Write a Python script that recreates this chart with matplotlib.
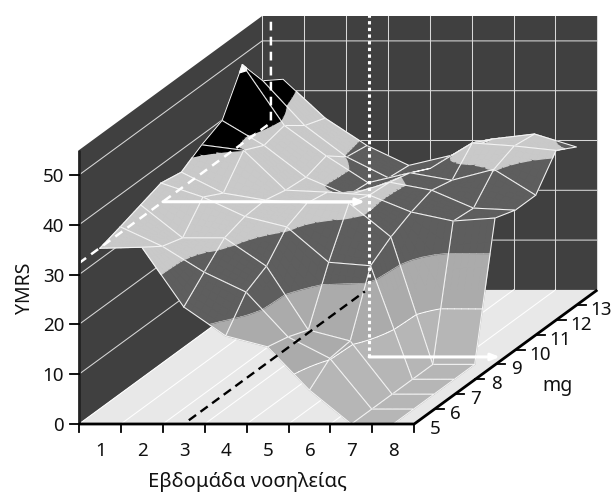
import numpy as np
import matplotlib
matplotlib.use('Agg')
import matplotlib.pyplot as plt
from matplotlib.collections import PolyCollection

plt.rcParams['font.family'] = ['Noto Sans', 'DejaVu Sans']

weeks = [1, 2, 3, 4, 5, 6, 7, 8]
mg_levels = [5, 6, 7, 8, 9, 10, 11, 12, 13, 14]
ymrs_ticks = [0, 10, 20, 30, 40, 50]
mg_ticks = [5, 6, 7, 8, 9, 10, 11, 12, 13]

# YMRS per week, one value per mg level
week_1 = [35.3, 36.6, 38.0, 39.4, 38.6, 41.1, 43.0, 51.2, 45.0, 42.3]
week_2 = [35.5, 32.7, 31.4, 36.6, 34.4, 40.0, 38.0, 39.0, 36.0, 34.5]
week_3 = [23.5, 27.5, 31.4, 32.7, 33.0, 32.0, 31.6, 32.9, 29.7, 29.0]
week_4 = [17.7, 23.5, 25.7, 30.6, 32.4, 31.6, 28.0, 27.5, 25.5, 25.0]
week_5 = [15.5, 14.5, 12.9, 23.5, 32.4, 31.0, 30.6, 29.5, 27.4, 27.0]
week_6 = [6.8, 10.2, 10.7, 22.8, 25.6, 27.6, 29.0, 28.0, 32.5, 30.3]
week_7 = [0, 0, 0, 0, 0, 25.8, 25.4, 30.2, 31.9, 31.3]
week_8 = [0, 0, 0, 0, 0, 26.4, 25.0, 25.0, 31.0, 28.7]
ymrs = np.array([week_1, week_2, week_3, week_4, week_5, week_6, week_7, week_8])

# bands of the surface
band_levels = [-1, 10, 20, 30, 40, 50, 60]
band_colors = ['#b6b6b6', '#ababab', '#5e5e5e', '#c9c9c9', '#000000', '#ffffff']

wall_color = '#404040'
floor_color = '#e8e8e8'
z_top = 55


def project(week, mg, z):
    """oblique view, floor front edge stays horizontal"""
    sx = 79 + (np.asarray(week, float) - 0.5) * 41.9 + (np.asarray(mg, float) - 5) * 20.35
    sy = 424 - (np.asarray(mg, float) - 5) * 14.9 - np.asarray(z, float) * 4.98
    return sx, sy


def clip_z(pts, level, keep_above):
    out = []
    for k in range(len(pts)):
        a, b = pts[k], pts[(k + 1) % len(pts)]
        a_in = a[2] >= level if keep_above else a[2] <= level
        b_in = b[2] >= level if keep_above else b[2] <= level
        if a_in:
            out.append(a)
        if a_in != b_in:
            t = (level - a[2]) / (b[2] - a[2])
            out.append((a[0] + t * (b[0] - a[0]), a[1] + t * (b[1] - a[1]), level))
    return out


def iso_segment(pts, level):
    cross = []
    for k in range(len(pts)):
        a, b = pts[k], pts[(k + 1) % len(pts)]
        if (a[2] - level) * (b[2] - level) < 0:
            t = (level - a[2]) / (b[2] - a[2])
            cross.append((a[0] + t * (b[0] - a[0]), a[1] + t * (b[1] - a[1])))
    return cross[:2] if len(cross) >= 2 else None


def draw_cell(ax, i, j, order):
    """one mesh cell, split in small pieces so band edges bend like the surface"""
    n = 6
    polys, colors = [], []
    iso = {10: [], 20: []}
    w0, w1 = weeks[i], weeks[i + 1]
    m0, m1 = mg_levels[j], mg_levels[j + 1]
    z00, z10, z01, z11 = ymrs[i, j], ymrs[i + 1, j], ymrs[i, j + 1], ymrs[i + 1, j + 1]

    def vertex(u, v):
        z = z00 * (1 - u) * (1 - v) + z10 * u * (1 - v) + z01 * (1 - u) * v + z11 * u * v
        return (w0 + u * (w1 - w0), m0 + v * (m1 - m0), z)

    for b in range(n - 1, -1, -1):
        for a in range(n - 1, -1, -1):
            quad = [vertex(a / n, b / n), vertex((a + 1) / n, b / n),
                    vertex((a + 1) / n, (b + 1) / n), vertex(a / n, (b + 1) / n)]
            for k in range(len(band_colors)):
                part = clip_z(clip_z(quad, band_levels[k], True), band_levels[k + 1], False)
                if len(part) >= 3:
                    sx, sy = project([p[0] for p in part], [p[1] for p in part], [p[2] for p in part])
                    polys.append(np.column_stack([sx, sy]))
                    colors.append(band_colors[k])
            for level in iso:
                seg = iso_segment(quad, level)
                if seg:
                    iso[level].append(seg)

    ax.add_collection(PolyCollection(polys, facecolors=colors, edgecolors=colors, linewidths=0.9,
                                     zorder=order))
    for seg in iso[10]:
        sx, sy = project([seg[0][0], seg[1][0]], [seg[0][1], seg[1][1]], [10, 10])
        ax.plot(sx, sy, color='white', lw=0.7, zorder=order + 0.1, solid_capstyle='round')
    for seg in iso[20]:
        sx, sy = project([seg[0][0], seg[1][0]], [seg[0][1], seg[1][1]], [20, 20])
        ax.plot(sx, sy, color='#d8d8d8', lw=0.4, zorder=order + 0.1, solid_capstyle='round')

    edge_w = [w0, w1, w1, w0, w0]
    edge_m = [m0, m0, m1, m1, m0]
    edge_z = [z00, z10, z11, z01, z00]
    sx, sy = project(edge_w, edge_m, edge_z)
    ax.plot(sx, sy, color='#f4f4f4', lw=0.75, zorder=order + 0.2, solid_joinstyle='round')


fig = plt.figure(figsize=(6.11, 4.92), dpi=100)
ax = fig.add_axes([0, 0, 1, 1])
ax.set_xlim(0, 611)
ax.set_ylim(492, 0)
ax.axis('off')

w_lo, w_hi = weeks[0] - 0.5, weeks[-1] + 0.5
m_lo, m_hi = mg_levels[0], mg_levels[-1]

# walls and floor
sx, sy = project([w_lo, w_lo, w_lo, w_lo], [m_lo, m_hi, m_hi, m_lo], [0, 0, z_top, z_top])
ax.fill(sx, sy, color=wall_color, lw=0, zorder=1)
sx, sy = project([w_lo, w_hi, w_hi, w_lo], [m_hi, m_hi, m_hi, m_hi], [0, 0, z_top, z_top])
ax.fill(sx, sy, color=wall_color, lw=0, zorder=1)
sx, sy = project([w_lo, w_hi, w_hi, w_lo], [m_lo, m_lo, m_hi, m_hi], [0, 0, 0, 0])
ax.fill(sx, sy, color=floor_color, lw=0, zorder=1)

# grid on walls and floor
for z in ymrs_ticks[1:]:
    sx, sy = project([w_lo, w_lo, w_hi], [m_lo, m_hi, m_hi], [z, z, z])
    ax.plot(sx, sy, color='#d8d8d8', lw=0.75, zorder=2)
for w in np.arange(w_lo, w_hi + 1):
    sx, sy = project([w, w], [m_hi, m_hi], [0, z_top])
    ax.plot(sx, sy, color='#d8d8d8', lw=0.75, zorder=2)
    sx, sy = project([w, w], [m_lo, m_hi], [0, 0])
    ax.plot(sx, sy, color='white', lw=0.75, zorder=2)

# surface, back to front and right to left
order = 3
for j in range(len(mg_levels) - 2, -1, -1):
    for i in range(len(weeks) - 2, -1, -1):
        draw_cell(ax, i, j, order)
        order += 1

# guide lines
sx, sy = project([0.5, 0.5, 0.5], [5, 14.43, 14.43], [32.3, 32.3, 53.3])
ax.plot(sx, sy, color='white', lw=1.8, dashes=(3.5, 2.5), zorder=order)
sx, sy = project([3, 3], [5.25, 13.9], [0, 0])
ax.plot(sx, sy, color='black', lw=1.7, dashes=(3.8, 2.3), zorder=order)
sx, sy = project([5.24, 5.24], [9.5, 9.5], [0, 68.7])
ax.plot(sx, sy, color='white', lw=2.2, dashes=(1.09, 1.09), zorder=order + 1)

x0, y0 = project(0.94, 8.22, 35)
x1, y1 = project(5.76, 8.22, 35)
ax.annotate('', xy=(x1, y1), xytext=(x0, y0), zorder=order + 1,
            arrowprops=dict(arrowstyle='-|>,head_length=0.5,head_width=0.2', color='white', lw=2.2,
                            shrinkA=0, shrinkB=0))
x0, y0 = project(5.24, 9.5, 0)
x1, y1 = project(8.36, 9.5, 0)
ax.annotate('', xy=(x1, y1), xytext=(x0, y0), zorder=order + 1,
            arrowprops=dict(arrowstyle='-|>,head_length=0.5,head_width=0.2', color='white', lw=2.2,
                            shrinkA=0, shrinkB=0))

# axes
top = order + 2
sx, sy = project([w_lo, w_lo], [m_lo, m_lo], [0, z_top])
ax.plot(sx, sy, color='#222222', lw=2, zorder=top, solid_capstyle='butt')
sx, sy = project([w_lo, w_hi, w_hi], [m_lo, m_lo, m_hi], [0, 0, 0])
ax.plot(sx, sy, color='black', lw=2, zorder=top, solid_capstyle='butt', solid_joinstyle='miter')

fts = 13.5
for z in ymrs_ticks:
    sx, sy = project(w_lo, m_lo, z)
    ax.plot([sx - 9, sx], [sy, sy], color='black', lw=1.3, zorder=top)
    ax.text(sx - 15, sy, str(z), ha='right', va='center_baseline', fontsize=fts, color='#111111')
for w in np.arange(w_lo, w_hi + 1):
    sx, sy = project(w, m_lo, 0)
    ax.plot([sx, sx], [sy, sy + 8], color='black', lw=1.3, zorder=top)
for w in weeks:
    sx, sy = project(w, m_lo, 0)
    ax.text(sx + 0.5, sy + 25, str(w), ha='center', va='center_baseline', fontsize=fts, color='#111111')
for m in mg_ticks:
    sx, sy = project(w_hi, m, 0)
    if m > mg_ticks[0]:
        ax.plot([sx, sx + 9], [sy, sy], color='black', lw=1.3, zorder=top)
    ax.text(sx + (21 if m < 10 else 24), sy + 3, str(m), ha='center', va='center_baseline',
            fontsize=fts, color='#111111')

ax.text(247, 482, 'Εβδομάδα νοσηλείας', ha='center', va='center', fontsize=14.5, color='#111111')
ax.text(25, 288, 'YMRS', ha='center', va='center', rotation=90, fontsize=14, color='#111111')
ax.text(557, 386, 'mg', ha='center', va='center', fontsize=14, color='#111111')

fig.savefig('out.png', dpi=100)
plt.close(fig)
